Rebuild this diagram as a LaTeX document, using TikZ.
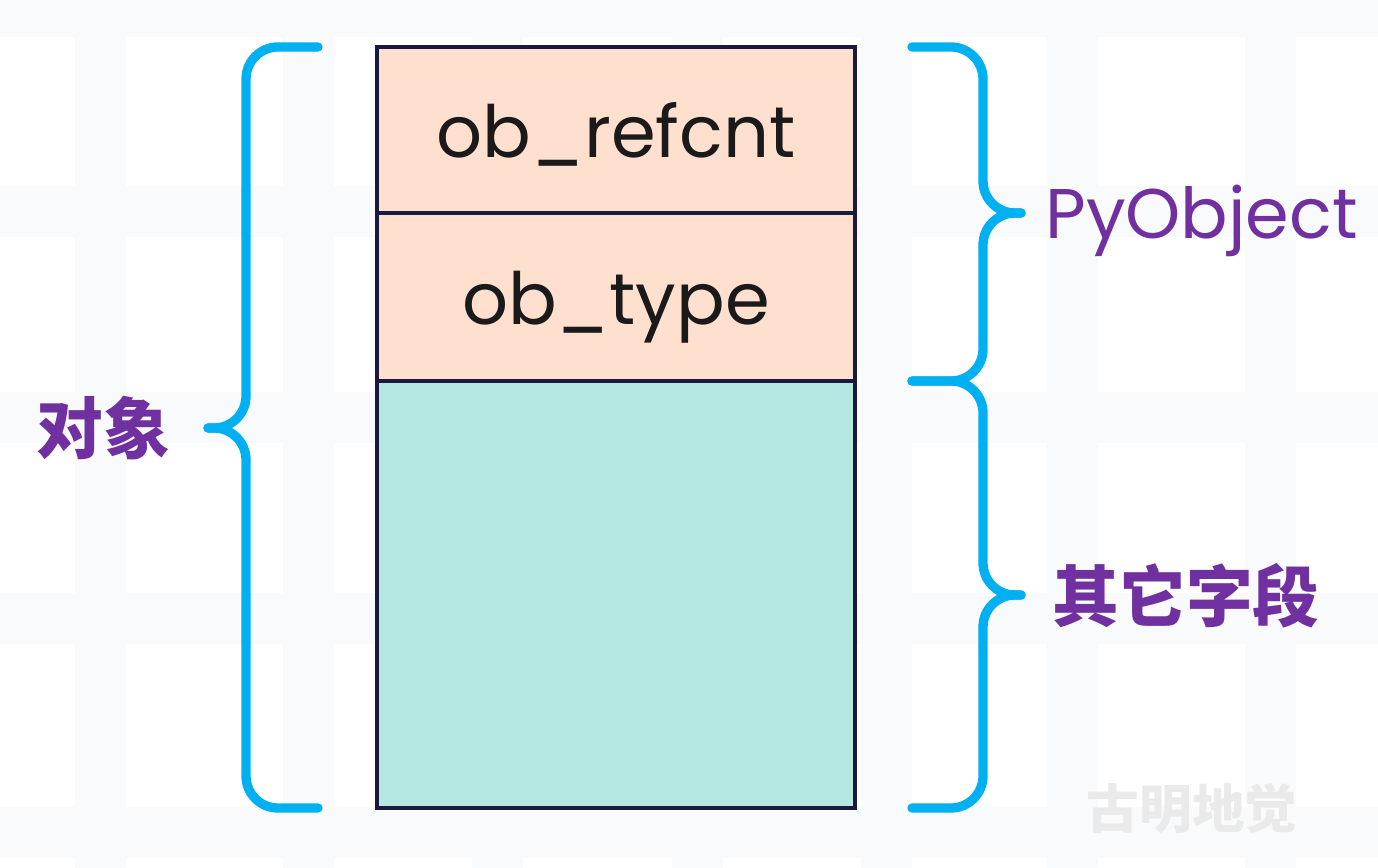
\documentclass[tikz,border=0pt]{standalone}
\usepackage{fontspec}
\setmainfont{Poppins}
\newfontfamily\cjk{Noto Sans CJK SC}
\usepackage{tikz}

\definecolor{bandgray}{RGB}{248,250,251}
\definecolor{cellpeach}{RGB}{255,223,206}
\definecolor{cellmint}{RGB}{180,232,224}
\definecolor{cellborder}{RGB}{26,26,64}
\definecolor{cellink}{RGB}{26,26,26}
\definecolor{bracecyan}{RGB}{0,176,240}
\definecolor{labelpurple}{RGB}{112,48,160}
\definecolor{markgray}{RGB}{234,234,234}

\begin{document}
\begin{tikzpicture}
  [x=0.02cm,y=-0.02cm,
   cell/.style={rectangle,draw=cellborder,line width=1.8pt,minimum width=9.56cm,
     inner sep=0pt,text height=1.12cm,text depth=0cm,text=cellink,
     font=\fontsize{41}{48}\selectfont},
   brace/.style={draw=bracecyan,line width=5.3pt,rounded corners=0.64cm,line cap=round},
   sidetext/.style={text=labelpurple,inner sep=0pt}]
  \useasboundingbox (0,0) rectangle (1378,868);

  % faint grid bands
  \foreach \x in {75,283,472,672,861,1047,1245}
    \fill[bandgray] (\x,0) rectangle (\x+51,868);
  \foreach \y in {-14,186,392,593,807}
    \fill[bandgray] (0,\y) rectangle (1378,\y+51);

  \node[cell,fill=cellpeach,minimum height=3.32cm] (refcnt) at (616,130) {ob\_refcnt};
  \node[cell,fill=cellpeach,minimum height=3.36cm] (type) at (616,297) {ob\_type};
  \node[cell,fill=cellmint,minimum height=8.54cm] (rest) at (616,594.5) {};

  \draw[brace] (318,47) -- (246,47) -- (246,428) -- (208,428);
  \draw[brace] (208,428) -- (246,428) -- (246,808) -- (318,808);
  \foreach \a/\m/\b in {47/213/381,381/595/808}{
    \draw[brace] (912,\a) -- (983,\a) -- (983,\m) -- (1021,\m);
    \draw[brace] (1021,\m) -- (983,\m) -- (983,\b) -- (912,\b);
  }

  \node[sidetext,font=\cjk\bfseries\fontsize{38}{44}\selectfont] (object) at (103,428) {对象};
  \node[sidetext,anchor=base west,font=\fontsize{40}{48}\selectfont] (pyobject) at (1045,238) {PyObject};
  \node[sidetext,font=\cjk\bfseries\fontsize{38}{44}\selectfont] (others) at (1186,596) {其它字段};

  \node[text=markgray,font=\cjk\bfseries\fontsize{30}{36}\selectfont] (mark) at (1192,809) {古明地觉};

\end{tikzpicture}
\end{document}
